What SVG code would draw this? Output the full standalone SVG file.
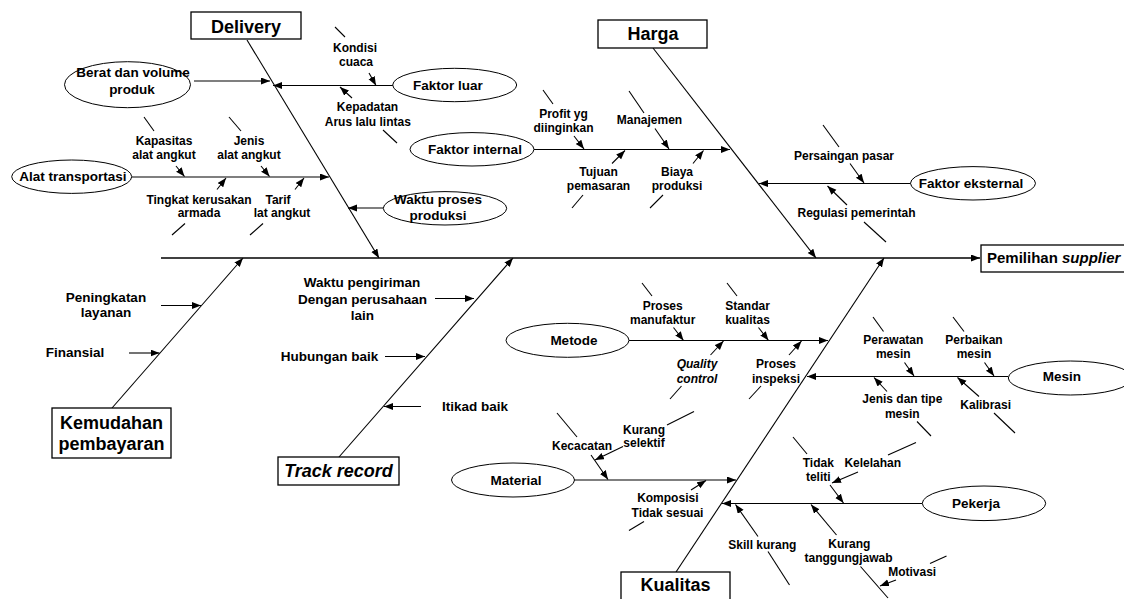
<svg xmlns="http://www.w3.org/2000/svg" width="1124" height="599" viewBox="0 0 1124 599">
  <style>
    .ln { stroke: #000; stroke-width: 1.1; fill: none; }
    .sp { stroke: #000; stroke-width: 1.3; fill: none; }
    .ar { marker-end: url(#ah); }
    .box { fill: #fff; stroke: #000; stroke-width: 1.3; }
    .ell { fill: #fff; stroke: #000; stroke-width: 1; }
    .t { font-family: "Liberation Sans", Arial, sans-serif; font-weight: bold; text-anchor: middle; fill: #000; }
    .s { font-size: 12px; }
    .m { font-size: 13.5px; }
    .h { font-size: 18px; }
    .i { font-style: italic; }
  </style>
  <defs>
    <marker id="ah" markerUnits="userSpaceOnUse" markerWidth="10" markerHeight="8" refX="9" refY="3.5" orient="auto">
      <path d="M0,0 L9,3.5 L0,7 z" fill="#000"/>
    </marker>
  </defs>
  <rect width="1124" height="599" fill="#fff"/>

  <!-- connectors: spine, main bones, branches and sub-cause arrows -->
  <g id="connectors">
    <!-- spine and main bones -->
    <line class="sp ar" x1="161" y1="258" x2="980" y2="258"/>
    <line class="ln ar" x1="247" y1="40" x2="379" y2="258"/>
    <line class="ln ar" x1="653" y1="48" x2="816" y2="258"/>
    <line class="ln ar" x1="112" y1="408" x2="243" y2="258"/>
    <line class="ln ar" x1="339" y1="457" x2="513" y2="258"/>
    <line class="ln ar" x1="676" y1="572" x2="884" y2="258"/>

    <!-- branches into the bones -->
    <line class="ln ar" x1="194" y1="81" x2="270" y2="81"/>
    <line class="ln ar" x1="393" y1="85.5" x2="273" y2="85.5"/>
    <line class="ln ar" x1="132" y1="177" x2="329" y2="177"/>
    <line class="ln ar" x1="383" y1="208" x2="348" y2="208"/>
    <line class="ln ar" x1="534" y1="149.5" x2="730" y2="149.5"/>
    <line class="ln ar" x1="911" y1="183.5" x2="759" y2="183.5"/>
    <line class="ln ar" x1="161" y1="305.5" x2="201" y2="305.5"/>
    <line class="ln ar" x1="129" y1="353" x2="159.5" y2="353"/>
    <line class="ln ar" x1="435" y1="298.5" x2="474" y2="298.5"/>
    <line class="ln ar" x1="385" y1="356.5" x2="425" y2="356.5"/>
    <line class="ln ar" x1="421" y1="406.5" x2="384" y2="406.5"/>
    <line class="ln ar" x1="629" y1="340.5" x2="828" y2="340.5"/>
    <line class="ln ar" x1="1008" y1="376.5" x2="807" y2="376.5"/>
    <line class="ln ar" x1="574" y1="480" x2="736" y2="480"/>
    <line class="ln ar" x1="922" y1="503.5" x2="722" y2="503.5"/>

    <!-- sub-causes: Faktor luar -->
    <line class="ln" x1="335" y1="27" x2="345" y2="37"/>
    <line class="ln ar" x1="369" y1="73" x2="376" y2="85.5"/>
    <line class="ln ar" x1="352" y1="98" x2="340" y2="87"/>
    <line class="ln" x1="383" y1="130" x2="397" y2="143"/>

    <!-- sub-causes: Alat transportasi -->
    <line class="ln" x1="144" y1="117" x2="154" y2="131"/>
    <line class="ln ar" x1="176" y1="166" x2="184.5" y2="176.5"/>
    <line class="ln" x1="229" y1="117" x2="241" y2="131"/>
    <line class="ln ar" x1="261" y1="166" x2="269.5" y2="176.5"/>
    <line class="ln ar" x1="217" y1="189.5" x2="226" y2="178"/>
    <line class="ln" x1="172" y1="235" x2="185" y2="223.5"/>
    <line class="ln ar" x1="295" y1="189.5" x2="304" y2="178"/>
    <line class="ln" x1="250" y1="235" x2="263" y2="223.5"/>

    <!-- sub-causes: Faktor internal -->
    <line class="ln" x1="543" y1="90" x2="553" y2="104"/>
    <line class="ln ar" x1="574" y1="136" x2="584" y2="149"/>
    <line class="ln" x1="629" y1="91" x2="644" y2="113"/>
    <line class="ln ar" x1="655" y1="128.5" x2="669" y2="149"/>
    <line class="ln ar" x1="612" y1="163.5" x2="625" y2="150.5"/>
    <line class="ln" x1="572" y1="208" x2="583" y2="195"/>
    <line class="ln ar" x1="693" y1="163.5" x2="703.5" y2="150.5"/>
    <line class="ln" x1="650" y1="208" x2="663" y2="195"/>

    <!-- sub-causes: Faktor eksternal -->
    <line class="ln" x1="823" y1="125" x2="839" y2="147"/>
    <line class="ln ar" x1="850" y1="163.5" x2="864" y2="183"/>
    <line class="ln ar" x1="847" y1="205" x2="827.5" y2="186"/>
    <line class="ln" x1="864" y1="222" x2="886" y2="242"/>

    <!-- sub-causes: Metode -->
    <line class="ln" x1="642" y1="283" x2="652" y2="296"/>
    <line class="ln ar" x1="673.5" y1="327.5" x2="683.5" y2="340.5"/>
    <line class="ln" x1="727" y1="283" x2="737" y2="296"/>
    <line class="ln ar" x1="758.5" y1="327.5" x2="768.5" y2="340.5"/>
    <line class="ln ar" x1="710.5" y1="355" x2="723.5" y2="341"/>
    <line class="ln" x1="670" y1="399" x2="681.5" y2="386"/>
    <line class="ln ar" x1="789" y1="355" x2="801.5" y2="341"/>
    <line class="ln" x1="749" y1="399" x2="761" y2="386"/>

    <!-- sub-causes: Mesin -->
    <line class="ln" x1="873" y1="317" x2="883.5" y2="331.5"/>
    <line class="ln ar" x1="904.5" y1="362.5" x2="914" y2="376"/>
    <line class="ln" x1="953" y1="317" x2="964" y2="331.5"/>
    <line class="ln ar" x1="984.5" y1="362.5" x2="994" y2="376"/>
    <line class="ln ar" x1="887" y1="391.5" x2="874" y2="377.5"/>
    <line class="ln" x1="917" y1="421.5" x2="931" y2="436"/>
    <line class="ln ar" x1="979" y1="396.5" x2="957.5" y2="377.5"/>
    <line class="ln" x1="994" y1="413" x2="1015" y2="433"/>

    <!-- sub-causes: Material -->
    <line class="ln" x1="557" y1="413" x2="577" y2="437"/>
    <line class="ln ar" x1="591" y1="455" x2="608" y2="479.5"/>
    <line class="ln" x1="694" y1="411.5" x2="667" y2="425"/>
    <line class="ln ar" x1="623" y1="446.5" x2="595" y2="460"/>
    <line class="ln ar" x1="691" y1="490" x2="706" y2="480.5"/>
    <line class="ln" x1="629" y1="530.5" x2="644" y2="521.5"/>

    <!-- sub-causes: Pekerja -->
    <line class="ln" x1="793" y1="437" x2="807" y2="454"/>
    <line class="ln ar" x1="830" y1="485" x2="843.5" y2="503"/>
    <line class="ln" x1="916" y1="442.5" x2="888" y2="455"/>
    <line class="ln ar" x1="858" y1="472" x2="832" y2="483"/>
    <line class="ln ar" x1="758" y1="536.5" x2="735.5" y2="504.5"/>
    <line class="ln" x1="768" y1="551.5" x2="789.5" y2="585"/>
    <line class="ln ar" x1="836.5" y1="535" x2="811" y2="504.5"/>
    <line class="ln" x1="860.5" y1="566.5" x2="888" y2="598"/>
    <line class="ln" x1="946.5" y1="556" x2="930" y2="563.5"/>
    <line class="ln ar" x1="896" y1="580" x2="880" y2="586"/>
  </g>

  <!-- effect -->
  <g id="pemilihan-supplier">
    <rect class="box" x="981" y="245" width="150" height="27"/>
    <text class="t" x="987" y="263" style="font-size:15px;text-anchor:start">Pemilihan <tspan class="i">supplier</tspan></text>
  </g>

  <!-- category boxes -->
  <g id="delivery">
    <rect class="box" x="191" y="12" width="110" height="27"/>
    <text class="t h" x="246" y="32.5">Delivery</text>
  </g>
  <g id="harga">
    <rect class="box" x="598" y="20" width="109" height="28"/>
    <text class="t h" x="653" y="39.5">Harga</text>
  </g>
  <g id="kemudahan-pembayaran">
    <rect class="box" x="52" y="408" width="119" height="50"/>
    <text class="t h" x="111.5" y="428.5">Kemudahan</text>
    <text class="t h" x="111.5" y="450">pembayaran</text>
  </g>
  <g id="track-record">
    <rect class="box" x="278" y="457" width="121" height="28"/>
    <text class="t h i" x="338.5" y="476.5">Track record</text>
  </g>
  <g id="kualitas">
    <rect class="box" x="621" y="572" width="109" height="32"/>
    <text class="t h" x="675.5" y="591">Kualitas</text>
  </g>

  <!-- Delivery causes -->
  <g id="berat-volume">
    <ellipse class="ell" cx="127.5" cy="84.7" rx="63" ry="23"/>
    <text class="t m" x="133" y="77">Berat dan volume</text>
    <text class="t m" x="132" y="94">produk</text>
  </g>
  <g id="faktor-luar">
    <ellipse class="ell" cx="454.7" cy="85" rx="62" ry="16.7"/>
    <text class="t m" x="448" y="89.5">Faktor luar</text>
  </g>
  <g id="kondisi-cuaca">
    <text class="t s" x="355" y="51.5">Kondisi</text>
    <text class="t s" x="356" y="65.5">cuaca</text>
  </g>
  <g id="kepadatan">
    <text class="t s" x="367.5" y="111">Kepadatan</text>
    <text class="t s" x="367.8" y="126">Arus lalu lintas</text>
  </g>
  <g id="alat-transportasi">
    <ellipse class="ell" cx="71.7" cy="176.7" rx="60" ry="16.7"/>
    <text class="t m" x="72.8" y="181">Alat transportasi</text>
  </g>
  <g id="kapasitas">
    <text class="t s" x="164" y="144.5">Kapasitas</text>
    <text class="t s" x="164" y="159">alat angkut</text>
  </g>
  <g id="jenis-alat">
    <text class="t s" x="249" y="144.5">Jenis</text>
    <text class="t s" x="249" y="159">alat angkut</text>
  </g>
  <g id="tingkat-kerusakan">
    <text class="t s" x="199" y="204">Tingkat kerusakan</text>
    <text class="t s" x="199" y="217">armada</text>
  </g>
  <g id="tarif">
    <text class="t s" x="278" y="204">Tarif</text>
    <text class="t s" x="282" y="217">lat angkut</text>
  </g>
  <g id="waktu-proses">
    <ellipse class="ell" cx="445" cy="208.3" rx="61.7" ry="16.7"/>
    <text class="t m" x="438" y="204">Waktu proses</text>
    <text class="t m" x="438" y="220">produksi</text>
  </g>

  <!-- Harga causes -->
  <g id="faktor-internal">
    <ellipse class="ell" cx="472" cy="149.3" rx="62" ry="16.7"/>
    <text class="t m" x="475" y="154">Faktor internal</text>
  </g>
  <g id="profit">
    <text class="t s" x="563.5" y="117.5">Profit yg</text>
    <text class="t s" x="563.5" y="131.5">diinginkan</text>
  </g>
  <g id="manajemen">
    <text class="t s" x="649.5" y="124">Manajemen</text>
  </g>
  <g id="tujuan-pemasaran">
    <text class="t s" x="598.5" y="176">Tujuan</text>
    <text class="t s" x="598.5" y="190">pemasaran</text>
  </g>
  <g id="biaya-produksi">
    <text class="t s" x="677" y="176">Biaya</text>
    <text class="t s" x="677" y="190">produksi</text>
  </g>
  <g id="faktor-eksternal">
    <ellipse class="ell" cx="973" cy="183.3" rx="62.5" ry="16.7"/>
    <text class="t m" x="971" y="188">Faktor eksternal</text>
  </g>
  <g id="persaingan">
    <text class="t s" x="844" y="159.5">Persaingan pasar</text>
  </g>
  <g id="regulasi">
    <text class="t s" x="856.5" y="217">Regulasi pemerintah</text>
  </g>

  <!-- Kemudahan pembayaran causes -->
  <g id="peningkatan-layanan">
    <text class="t m" x="106" y="302">Peningkatan</text>
    <text class="t m" x="106" y="317">layanan</text>
  </g>
  <g id="finansial">
    <text class="t m" x="75" y="357">Finansial</text>
  </g>

  <!-- Track record causes -->
  <g id="waktu-pengiriman">
    <text class="t m" x="362" y="287">Waktu pengiriman</text>
    <text class="t m" x="362.5" y="304">Dengan perusahaan</text>
    <text class="t m" x="362.5" y="320">lain</text>
  </g>
  <g id="hubungan-baik">
    <text class="t m" x="329.5" y="360.5">Hubungan baik</text>
  </g>
  <g id="itikad-baik">
    <text class="t m" x="475" y="410.5">Itikad baik</text>
  </g>

  <!-- Kualitas causes -->
  <g id="metode">
    <ellipse class="ell" cx="567.5" cy="340.3" rx="61.5" ry="17"/>
    <text class="t m" x="574" y="345">Metode</text>
  </g>
  <g id="proses-manufaktur">
    <text class="t s" x="662.7" y="309.5">Proses</text>
    <text class="t s" x="662.7" y="323.5">manufaktur</text>
  </g>
  <g id="standar-kualitas">
    <text class="t s" x="747.5" y="309.5">Standar</text>
    <text class="t s" x="747.5" y="323.5">kualitas</text>
  </g>
  <g id="quality-control">
    <text class="t s i" x="697" y="367.5">Quality</text>
    <text class="t s i" x="697" y="382.5">control</text>
  </g>
  <g id="proses-inspeksi">
    <text class="t s" x="776" y="367.5">Proses</text>
    <text class="t s" x="776" y="382.5">inspeksi</text>
  </g>
  <g id="mesin">
    <ellipse class="ell" cx="1070.3" cy="378" rx="62" ry="17"/>
    <text class="t m" x="1062" y="381">Mesin</text>
  </g>
  <g id="perawatan-mesin">
    <text class="t s" x="893.3" y="343.5">Perawatan</text>
    <text class="t s" x="893.3" y="358">mesin</text>
  </g>
  <g id="perbaikan-mesin">
    <text class="t s" x="974" y="343.5">Perbaikan</text>
    <text class="t s" x="974" y="358">mesin</text>
  </g>
  <g id="jenis-tipe-mesin">
    <text class="t s" x="902.3" y="403">Jenis dan tipe</text>
    <text class="t s" x="902.3" y="418">mesin</text>
  </g>
  <g id="kalibrasi">
    <text class="t s" x="985.7" y="409">Kalibrasi</text>
  </g>
  <g id="material">
    <ellipse class="ell" cx="513" cy="480" rx="61.5" ry="17"/>
    <text class="t m" x="516" y="484.5">Material</text>
  </g>
  <g id="kecacatan">
    <text class="t s" x="582" y="449.5">Kecacatan</text>
  </g>
  <g id="kurang-selektif">
    <text class="t s" x="644" y="434">Kurang</text>
    <text class="t s" x="644" y="447">selektif</text>
  </g>
  <g id="komposisi">
    <text class="t s" x="667.8" y="502">Komposisi</text>
    <text class="t s" x="667.5" y="517">Tidak sesuai</text>
  </g>
  <g id="pekerja">
    <ellipse class="ell" cx="984" cy="503.3" rx="61.7" ry="17.3"/>
    <text class="t m" x="976" y="507.5">Pekerja</text>
  </g>
  <g id="tidak-teliti">
    <text class="t s" x="818.3" y="467">Tidak</text>
    <text class="t s" x="818.3" y="481">teliti</text>
  </g>
  <g id="kelelahan">
    <text class="t s" x="872.8" y="467">Kelelahan</text>
  </g>
  <g id="skill-kurang">
    <text class="t s" x="762.3" y="548.5">Skill kurang</text>
  </g>
  <g id="kurang-tanggungjawab">
    <text class="t s" x="849.3" y="548.3">Kurang</text>
    <text class="t s" x="848.5" y="562">tanggungjawab</text>
  </g>
  <g id="motivasi">
    <text class="t s" x="912.2" y="575.5">Motivasi</text>
  </g>
</svg>
